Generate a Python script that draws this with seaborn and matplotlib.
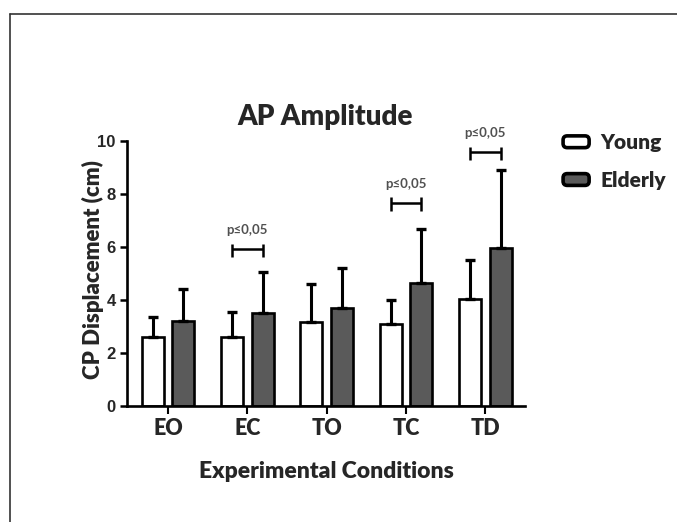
import numpy as np
import pandas as pd
import seaborn as sns
import matplotlib
matplotlib.use("Agg")
import matplotlib.pyplot as plt
from matplotlib.lines import Line2D
from matplotlib.patches import FancyBboxPatch, Patch
from matplotlib.legend_handler import HandlerPatch

# ---- data ----
conditions = ["EO", "EC", "TO", "TC", "TD"]
groups = ["Young", "Elderly"]
young_mean = [2.58, 2.58, 3.17, 3.07, 4.03]
young_sd = [0.78, 0.97, 1.42, 0.92, 1.47]
elderly_mean = [3.18, 3.49, 3.67, 4.62, 5.95]
elderly_sd = [1.21, 1.57, 1.54, 2.05, 2.95]
sig_conditions = ["EC", "TC", "TD"]
sig_label = "p\u22640,05"
sig_heights = [5.9, 7.66, 9.56]
yticks = [0, 2, 4, 6, 8, 10]

df = pd.DataFrame({
    "Condition": conditions * 2,
    "Group": [groups[0]] * len(conditions) + [groups[1]] * len(conditions),
    "Mean": young_mean + elderly_mean,
})
sds = {groups[0]: young_sd, groups[1]: elderly_sd}

sns.set_style("white")
plt.rcParams["font.family"] = ["Lato", "DejaVu Sans"]
WEIGHT = "heavy"

W, H = 677, 522
fig = plt.figure(figsize=(W / 100, H / 100), dpi=100)
ax = fig.add_axes([126.7 / W, 1 - 405.7 / H, (525 - 126.7) / W, (405.7 - 140.7) / H])

colors = {"Young": "white", "Elderly": "#5a5a5a"}
sns.barplot(data=df, x="Condition", y="Mean", hue="Group", order=conditions,
            hue_order=groups, palette=colors, width=0.77, gap=0.28,
            edgecolor="black", linewidth=1.9, errorbar=None, ax=ax, legend=False,
            saturation=1)

# error bars (upper only)
centers = {}
for g, cont in zip(groups, ax.containers):
    for i, bar in enumerate(cont):
        xc = bar.get_x() + bar.get_width() / 2
        h = bar.get_height()
        centers[(g, conditions[i])] = xc
        ax.errorbar([xc], [h], yerr=[[0], [sds[g][i]]], fmt="none", ecolor="black",
                    elinewidth=2.2, capsize=3.8, capthick=2.4, zorder=1)

# significance brackets
for cond, yb in zip(sig_conditions, sig_heights):
    x1 = centers[(groups[0], cond)]
    x2 = centers[(groups[1], cond)]
    ax.plot([x1, x2], [yb, yb], color="black", lw=1.8, clip_on=False, solid_capstyle="butt")
    for xx in (x1, x2):
        ax.plot([xx, xx], [yb - 0.3, yb + 0.2], color="black", lw=1.8, clip_on=False,
                solid_capstyle="butt")
    ax.text((x1 + x2) / 2, yb + 0.72, sig_label, ha="center", va="center", fontsize=9.5,
            color="#505050", family=["Lato", "DejaVu Sans"], fontweight="bold",
            clip_on=False)

ax.set_xlim(-0.52, 4.5)
ax.set_ylim(0, 10)
ax.set_yticks(yticks)
ax.set_yticklabels([str(t) for t in yticks], fontsize=12, fontweight="bold",
                   family="Liberation Sans")
ax.set_xticks(range(len(conditions)))
ax.set_xticklabels(conditions, fontsize=15.5, fontweight=WEIGHT)
ax.tick_params(axis="y", left=True, length=5, width=1.8, pad=3, color="black")
ax.tick_params(axis="x", bottom=True, length=6, width=1.5, pad=3, color="black")
ax.set_xlabel("")
ax.set_ylabel("")
sns.despine(ax=ax)
for s in ("left", "bottom"):
    ax.spines[s].set_linewidth(1.9)
    ax.spines[s].set_color("black")

fig.text(325 / W, 1 - 117 / H, "AP Amplitude", ha="center", va="center",
         fontsize=20, fontweight=WEIGHT)
fig.text(93 / W, 1 - 270 / H, "CP Displacement (cm)", ha="center", va="center",
         rotation=90, fontsize=16, fontweight=WEIGHT)
fig.text(326 / W, 1 - 472 / H, "Experimental Conditions", ha="center", va="center",
         fontsize=16.5, fontweight=WEIGHT)


class RoundHandler(HandlerPatch):
    def create_artists(self, legend, orig_handle, xdescent, ydescent, width, height,
                       fontsize, trans):
        p = FancyBboxPatch((-xdescent + 1.5, -ydescent + 1.5), width - 3, height - 3,
                           boxstyle="round,pad=0,rounding_size=3",
                           facecolor=orig_handle.get_facecolor(), edgecolor="black",
                           linewidth=2.6, transform=trans)
        return [p]


handles = [Patch(facecolor=colors[g], edgecolor="black") for g in groups]
leg = fig.legend(handles, groups, loc="upper left",
                 bbox_to_anchor=(561 / W, 1 - 133 / H), bbox_transform=fig.transFigure,
                 frameon=False, borderpad=0, borderaxespad=0, handlelength=1.45,
                 handleheight=0.8, handletextpad=0.45, labelspacing=0.9,
                 prop={"family": ["Lato", "DejaVu Sans"], "weight": WEIGHT, "size": 15},
                 handler_map={Patch: RoundHandler()})

# page border lines
fig.add_artist(Line2D([10 / W, 1], [1 - 14 / H, 1 - 14 / H], color="#333333", lw=1.2,
                      transform=fig.transFigure))
fig.add_artist(Line2D([10 / W, 10 / W], [0, 1 - 14 / H], color="#333333", lw=1.2,
                      transform=fig.transFigure))

fig.savefig("out.png", dpi=100)
